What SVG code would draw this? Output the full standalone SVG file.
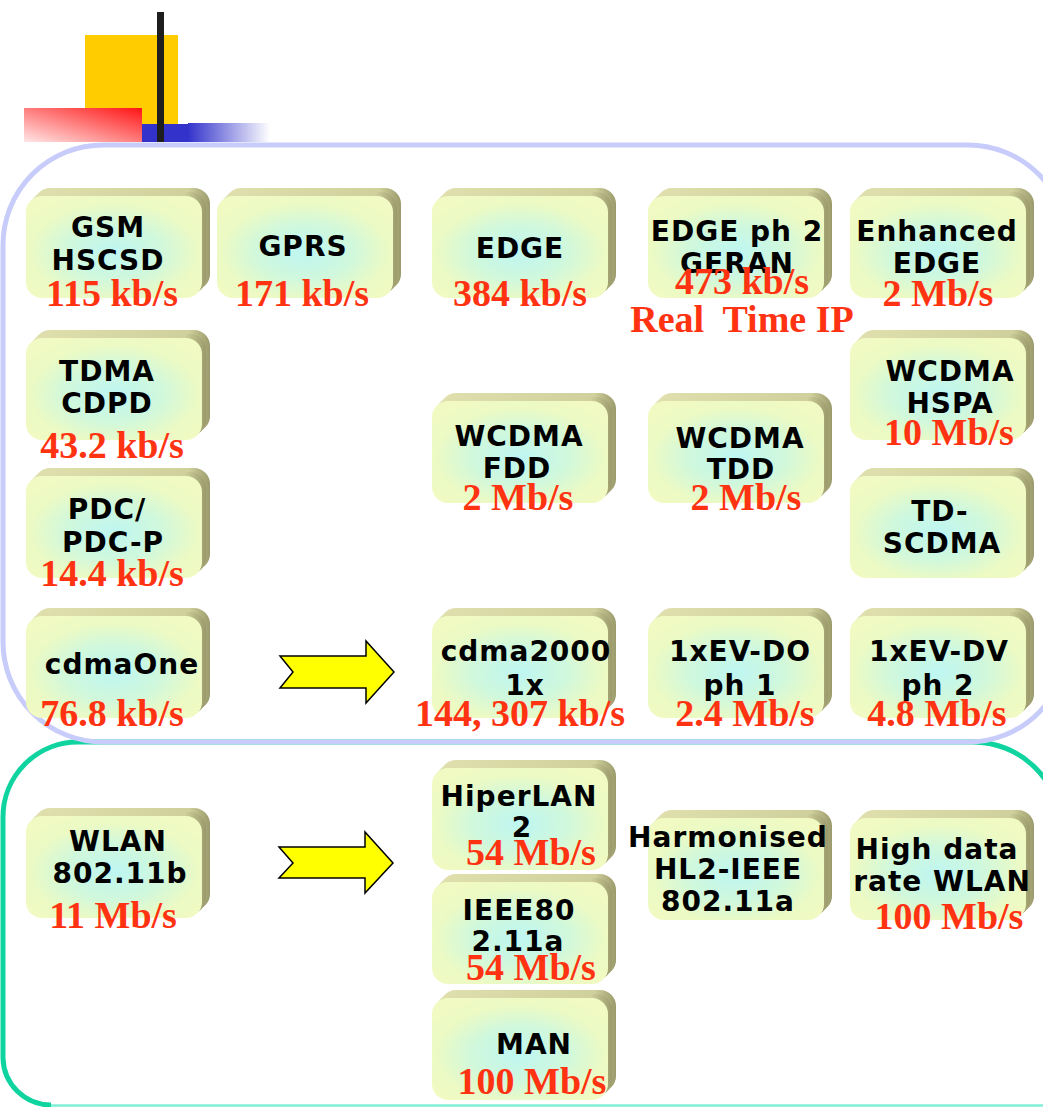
<svg xmlns="http://www.w3.org/2000/svg" xmlns:xlink="http://www.w3.org/1999/xlink" width="1043" height="1107" viewBox="0 0 1043 1107">
  <style>
    .lbl { font-family: "DejaVu Sans", Verdana, sans-serif; font-weight: bold; font-size: 28px; fill: #000; text-anchor: middle; letter-spacing: 1px; }
    .rate { font-family: "Liberation Serif", "Times New Roman", serif; font-weight: bold; font-size: 38px; fill: #ff3311; text-anchor: middle; }
    .arrow { fill: #ffff00; stroke: #000; stroke-width: 1.5; stroke-linejoin: miter; }
  </style>
  <defs>
    <radialGradient id="face" cx="0.5" cy="0.55" r="0.6">
      <stop offset="0" stop-color="#bef6f2"/>
      <stop offset="0.45" stop-color="#d0f8dc"/>
      <stop offset="0.8" stop-color="#ecfac4"/>
      <stop offset="1" stop-color="#f0fac2"/>
    </radialGradient>
    <linearGradient id="side" x1="0" y1="0" x2="1" y2="0">
      <stop offset="0" stop-color="#e0e0ae"/>
      <stop offset="0.88" stop-color="#d0d09c"/>
      <stop offset="1" stop-color="#9a9a6c"/>
    </linearGradient>
    <linearGradient id="redFade" x1="0" y1="1" x2="1" y2="0">
      <stop offset="0" stop-color="#ffe6e6"/>
      <stop offset="1" stop-color="#ff1414"/>
    </linearGradient>
    <linearGradient id="blueFade" x1="0" y1="0" x2="1" y2="0">
      <stop offset="0" stop-color="#3333cc"/>
      <stop offset="1" stop-color="#ffffff"/>
    </linearGradient>
    <!-- raised rounded tile: back extrusion, then front face -->
    <g id="box">
      <rect x="8" y="0" width="176" height="102" rx="16" fill="url(#side)"/>
      <rect x="4" y="4" width="176" height="102" rx="16" fill="url(#side)"/>
      <rect x="0" y="8" width="176" height="102" rx="16" fill="url(#face)"/>
    </g>
  </defs>

  <rect width="1043" height="1107" fill="#ffffff"/>

  <!-- title bar ornament -->
  <g id="ornament">
    <rect x="85" y="35" width="93" height="89" fill="#ffcc00"/>
    <rect x="24" y="108" width="118" height="34" fill="url(#redFade)"/>
    <rect x="142" y="124" width="46" height="18" fill="#3333cc"/>
    <rect x="188" y="123" width="82" height="19" fill="url(#blueFade)"/>
    <rect x="157" y="12" width="7" height="130" fill="#1e1e1e"/>
  </g>

  <!-- section frames -->
  <g id="frames" fill="none">
    <path d="M1061,1106 L1061,830 A88,88 0 0 0 973,742 L78,742 A75,75 0 0 0 3,817 L3,1058 A48,48 0 0 0 51,1105" stroke="#10d4a0" stroke-width="5"/>
    <line x1="51" y1="1105.5" x2="1043" y2="1105.5" stroke="#80f0d4" stroke-width="2.5"/>
    <rect x="3" y="145" width="1065" height="597" rx="100" ry="100" stroke="#c8ccfa" stroke-width="5"/>
  </g>

  <!-- migration arrows -->
  <g id="connectors">
    <polygon class="arrow" points="280,656 366,656 366,641 394,672 366,703 366,688 280,688 293,672"/>
    <polygon class="arrow" points="279,847 365,847 365,832 393,863 365,893 365,878 279,878 293,863"/>
  </g>

  <!-- cellular technologies -->
  <g id="node-gsm">
    <use xlink:href="#box" x="26" y="188"/>
    <text class="lbl" x="108" y="237">GSM</text>
    <text class="lbl" x="108" y="270">HSCSD</text>
    <text class="rate" x="112" y="306">115 kb/s</text>
  </g>
  <g id="node-gprs">
    <use xlink:href="#box" x="217" y="188"/>
    <text class="lbl" x="303" y="256">GPRS</text>
    <text class="rate" x="302" y="306">171 kb/s</text>
  </g>
  <g id="node-edge">
    <use xlink:href="#box" x="432" y="188"/>
    <text class="lbl" x="520" y="258">EDGE</text>
    <text class="rate" x="520" y="306">384 kb/s</text>
  </g>
  <g id="node-edge2">
    <use xlink:href="#box" x="648" y="188"/>
    <text class="lbl" x="737" y="241">EDGE ph 2</text>
    <text class="lbl" x="737" y="273">GERAN</text>
    <text class="rate" x="742" y="294">473 kb/s</text>
    <text class="rate" x="742" y="332">Real&#160; Time IP</text>
  </g>
  <g id="node-enhanced-edge">
    <use xlink:href="#box" x="850" y="188"/>
    <text class="lbl" x="937" y="241">Enhanced</text>
    <text class="lbl" x="937" y="273">EDGE</text>
    <text class="rate" x="938" y="306">2 Mb/s</text>
  </g>
  <g id="node-tdma">
    <use xlink:href="#box" x="26" y="330"/>
    <text class="lbl" x="107" y="381">TDMA</text>
    <text class="lbl" x="107" y="413">CDPD</text>
    <text class="rate" x="112" y="458">43.2 kb/s</text>
  </g>
  <g id="node-hspa">
    <use xlink:href="#box" x="850" y="330"/>
    <text class="lbl" x="950" y="381">WCDMA</text>
    <text class="lbl" x="950" y="413">HSPA</text>
    <text class="rate" x="949" y="445">10 Mb/s</text>
  </g>
  <g id="node-wcdma-fdd">
    <use xlink:href="#box" x="432" y="393"/>
    <text class="lbl" x="519" y="446">WCDMA</text>
    <text class="lbl" x="517" y="478">FDD</text>
    <text class="rate" x="518" y="510">2 Mb/s</text>
  </g>
  <g id="node-wcdma-tdd">
    <use xlink:href="#box" x="648" y="393"/>
    <text class="lbl" x="740" y="448">WCDMA</text>
    <text class="lbl" x="741" y="479">TDD</text>
    <text class="rate" x="746" y="510">2 Mb/s</text>
  </g>
  <g id="node-pdc">
    <use xlink:href="#box" x="26" y="468"/>
    <text class="lbl" x="107" y="519">PDC/</text>
    <text class="lbl" x="113" y="552">PDC-P</text>
    <text class="rate" x="112" y="586">14.4 kb/s</text>
  </g>
  <g id="node-td-scdma">
    <use xlink:href="#box" x="850" y="468"/>
    <text class="lbl" x="940" y="521">TD-</text>
    <text class="lbl" x="942" y="553">SCDMA</text>
  </g>
  <g id="node-cdmaone">
    <use xlink:href="#box" x="26" y="608"/>
    <text class="lbl" x="122" y="674">cdmaOne</text>
    <text class="rate" x="112" y="726">76.8 kb/s</text>
  </g>
  <g id="node-cdma2000">
    <use xlink:href="#box" x="432" y="608"/>
    <text class="lbl" x="526" y="661">cdma2000</text>
    <text class="lbl" x="525" y="695">1x</text>
    <text class="rate" x="520" y="726">144, 307 kb/s</text>
  </g>
  <g id="node-evdo">
    <use xlink:href="#box" x="648" y="608"/>
    <text class="lbl" x="740" y="661">1xEV-DO</text>
    <text class="lbl" x="740" y="695">ph 1</text>
    <text class="rate" x="745" y="726">2.4 Mb/s</text>
  </g>
  <g id="node-evdv">
    <use xlink:href="#box" x="850" y="608"/>
    <text class="lbl" x="939" y="661">1xEV-DV</text>
    <text class="lbl" x="938" y="695">ph 2</text>
    <text class="rate" x="937" y="726">4.8 Mb/s</text>
  </g>

  <!-- wireless LAN technologies -->
  <g id="node-wlan">
    <use xlink:href="#box" x="26" y="808"/>
    <text class="lbl" x="118" y="851">WLAN</text>
    <text class="lbl" x="120" y="883">802.11b</text>
    <text class="rate" x="113" y="928">11 Mb/s</text>
  </g>
  <g id="node-hiperlan">
    <use xlink:href="#box" x="432" y="760"/>
    <text class="lbl" x="519" y="806">HiperLAN</text>
    <text class="lbl" x="522" y="837">2</text>
    <text class="rate" x="531" y="865">54 Mb/s</text>
  </g>
  <g id="node-ieee80211a">
    <use xlink:href="#box" x="432" y="874"/>
    <text class="lbl" x="519" y="920">IEEE80</text>
    <text class="lbl" x="518" y="951">2.11a</text>
    <text class="rate" x="531" y="980">54 Mb/s</text>
  </g>
  <g id="node-man">
    <use xlink:href="#box" x="432" y="990"/>
    <text class="lbl" x="534" y="1054">MAN</text>
    <text class="rate" x="532" y="1094">100 Mb/s</text>
  </g>
  <g id="node-harmonised">
    <use xlink:href="#box" x="648" y="810"/>
    <text class="lbl" x="728" y="847">Harmonised</text>
    <text class="lbl" x="728" y="879">HL2-IEEE</text>
    <text class="lbl" x="728" y="911">802.11a</text>
  </g>
  <g id="node-high-rate-wlan">
    <use xlink:href="#box" x="850" y="810"/>
    <text class="lbl" x="937" y="859">High data</text>
    <text class="lbl" x="942" y="891">rate WLAN</text>
    <text class="rate" x="949" y="929">100 Mb/s</text>
  </g>
</svg>
